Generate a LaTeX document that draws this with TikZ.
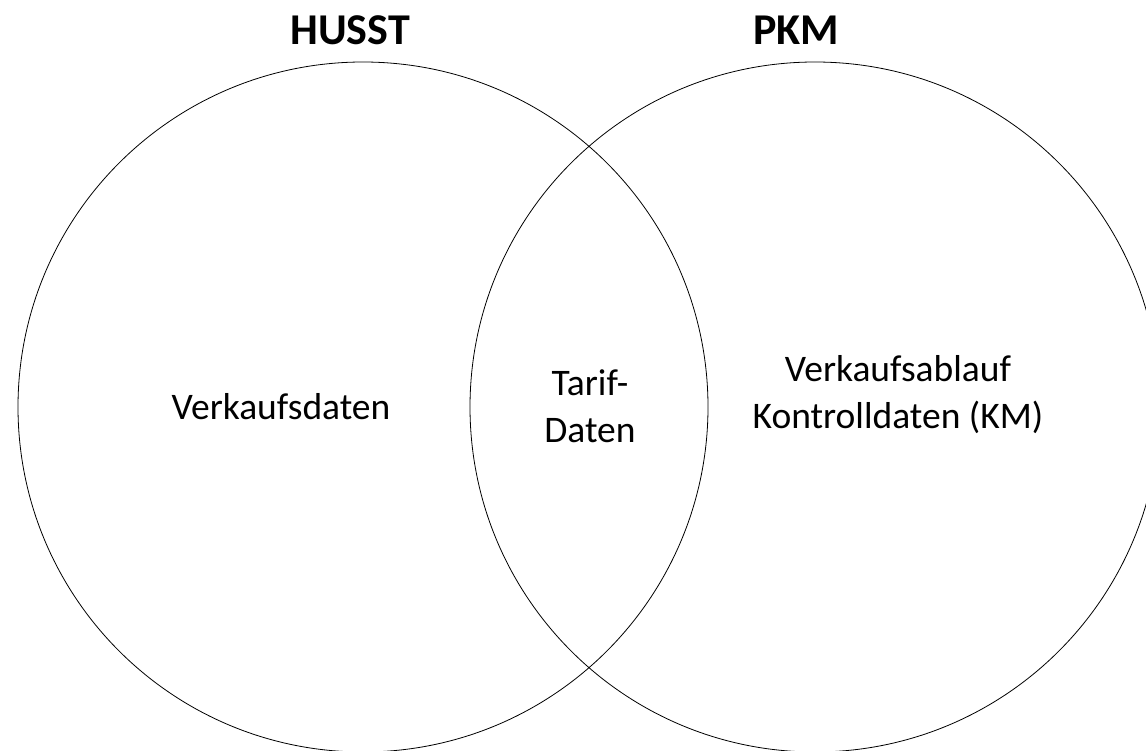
\documentclass[tikz,border=0pt]{standalone}
\usepackage{fontspec}
\setmainfont{Carlito}
\usepackage{tikz}

\begin{document}
\begin{tikzpicture}[x=1pt,y=-1pt,
    set/.style={circle,draw,line width=0.8pt,minimum size=690pt,inner sep=0pt},
    title/.style={font=\fontsize{44}{52}\selectfont\bfseries,anchor=base},
    lbl/.style={font=\fontsize{37.5}{46.5}\selectfont,align=center,anchor=base}]
    \useasboundingbox (0,0) rectangle (1146,751);
    \node[set] (husst) at (363,407) {};
    \node[set] (pkm) at (815,407) {};
    \node[title] (thusst) at (350,45) {HUSST};
    \node[title] (tpkm) at (796,45) {PKM};
    \node[lbl] (vd) at (281,419) {Verkaufsdaten};
    \node[lbl] (td) at (590,442) {Tarif-\\Daten};
    \node[lbl] (vk) at (898,428) {Verkaufsablauf\\Kontrolldaten (KM)};
  \end{tikzpicture}
\end{document}
